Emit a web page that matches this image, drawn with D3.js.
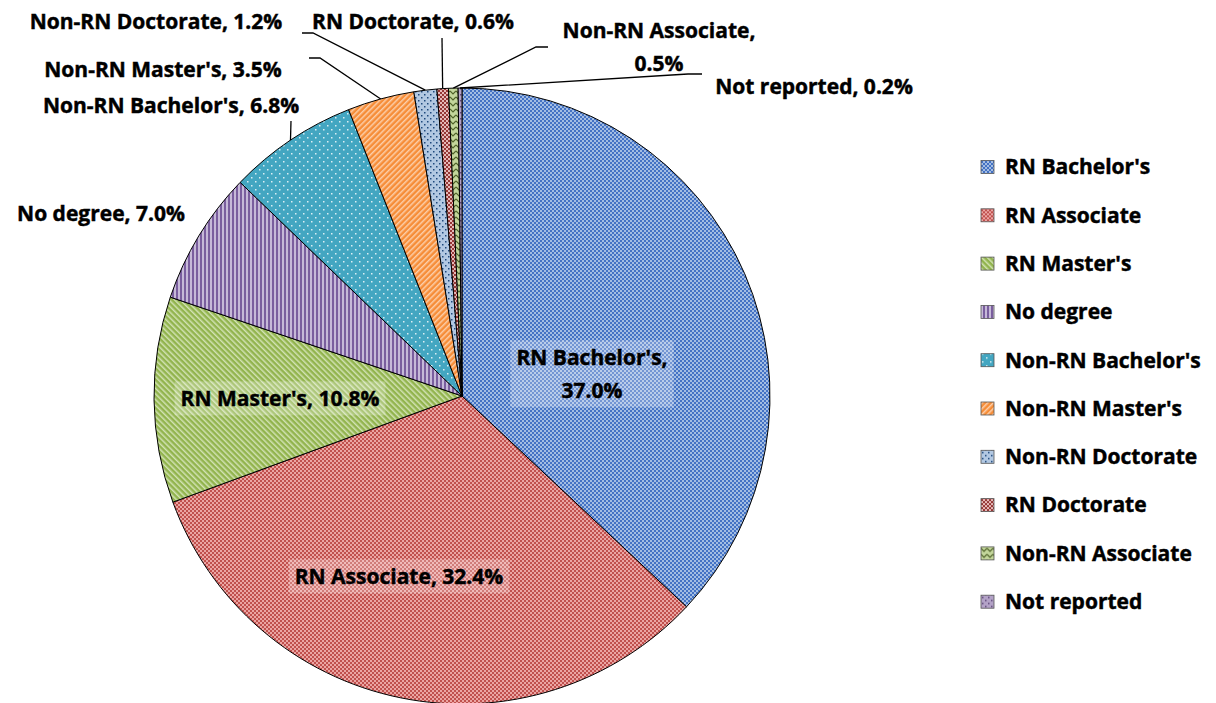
<!DOCTYPE html>
<html>
<head>
<meta charset="utf-8">
<script src="https://cdn.jsdelivr.net/npm/d3@7"></script>
<style>
body { margin: 0; background: #fff; }
text { font-family: "Open Sans", Lato, sans-serif; font-weight: bold; fill: #000; stroke: #000; stroke-width: 0.45px; }
</style>
</head>
<body>
<script>
// slice names and shares (%) in drawing order, clockwise from 12 o'clock
var categories = ["RN Bachelor's", "RN Associate", "RN Master's", "No degree", "Non-RN Bachelor's",
                  "Non-RN Master's", "Non-RN Doctorate", "RN Doctorate", "Non-RN Associate", "Not reported"];
var values = [37.0, 32.4, 10.8, 7.0, 6.8, 3.5, 1.2, 0.6, 0.5, 0.2];

// where each data label sits, and the elbow points of its leader line (if any)
var labelLayout = [
  {x: 592, y: 358, split: true, box: true},
  {x: 399, y: 577, box: true},
  {x: 280, y: 399, box: true},
  {x: 101, y: 214},
  {x: 171, y: 106, lead: [[291, 121]]},
  {x: 163, y: 70, lead: [[309, 58], [320, 58]]},
  {x: 156, y: 22, lead: [[302, 33], [313, 33]]},
  {x: 413, y: 22, lead: [[442, 38]]},
  {x: 659, y: 31, split: true, lead: [[548, 47], [536, 47]]},
  {x: 814, y: 87, lead: [[702, 74], [688, 74]]}
];

var width = 1216, height = 703;
var cx = 462, cy = 396, radius = 308;
var fontSize = 21;

var svg = d3.select("body").append("svg")
  .attr("width", width)
  .attr("height", height);

var defs = svg.append("defs");

//helper to build a pattern fill with a background colour
function makePattern(id, w, h, bg, rot) {
  var p = defs.append("pattern")
    .attr("id", id)
    .attr("patternUnits", "userSpaceOnUse")
    .attr("width", w)
    .attr("height", h);
  if (rot) p.attr("patternTransform", "rotate(" + rot + ")");
  p.append("rect").attr("width", w).attr("height", h).attr("fill", bg);
  return p;
}

function checker(id, bg, fg) {
  var p = makePattern(id, 4, 4, bg);
  p.append("rect").attr("x", 0).attr("y", 0).attr("width", 2).attr("height", 2).attr("fill", fg);
  p.append("rect").attr("x", 2).attr("y", 2).attr("width", 2).attr("height", 2).attr("fill", fg);
}

function stripes(id, bg, fg, rot, sw) {
  var p = makePattern(id, 4, 4, bg, rot);
  p.append("rect").attr("width", sw).attr("height", 4).attr("fill", fg);
}

function dots(id, bg, fg, size, step) {
  var p = makePattern(id, step, step, bg);
  p.append("rect").attr("x", 1).attr("y", 1).attr("width", size).attr("height", size).attr("fill", fg);
  p.append("rect").attr("x", 1 + step / 2).attr("y", 1 + step / 2).attr("width", size).attr("height", size).attr("fill", fg);
}

checker("p0", "#4472C4", "#A3BDE3");
checker("p1", "#C0504D", "#EBA5A3");
stripes("p2", "#92B44E", "#D2E2B4", -45, 1.5);
stripes("p3", "#7A5E9E", "#C6B9D8", 0, 2);
dots("p4", "#43A6C1", "#DAEEF3", 1.5, 8);
stripes("p5", "#F68D38", "#FCCFAA", 45, 1.5);
dots("p6", "#B2C8E2", "#1F497D", 1.5, 6);
checker("p7", "#953735", "#E6B9B8");
var wave = makePattern("p8", 6, 6, "#C3D69B");
wave.append("path").attr("d", "M0,1 L3,4 L6,1").attr("fill", "none")
  .attr("stroke", "#4F6228").attr("stroke-width", 1.2);
dots("p9", "#B3A2C7", "#5F497A", 1.5, 6);

var pie = d3.pie().sort(null).value(function(d) { return d; });
var arcs = pie(values);

var arc = d3.arc().innerRadius(0).outerRadius(radius);
var rimArc = d3.arc().innerRadius(radius).outerRadius(radius);

var g = svg.append("g").attr("transform", "translate(" + cx + "," + cy + ")");

g.selectAll("path.slice")
  .data(arcs)
  .enter().append("path")
  .attr("class", "slice")
  .attr("d", arc)
  .attr("fill", function(d, i) { return "url(#p" + i + ")"; })
  .attr("stroke", "#000")
  .attr("stroke-width", 1);

//leader lines from outside labels to the rim of their slice
arcs.forEach(function(d, i) {
  var lay = labelLayout[i];
  if (!lay.lead) return;
  var rim = rimArc.centroid(d);
  var pts = lay.lead.map(function(p) { return p; });
  pts.push([rim[0] + cx, rim[1] + cy]);
  svg.append("path")
    .attr("d", d3.line()(pts))
    .attr("fill", "none")
    .attr("stroke", "#000")
    .attr("stroke-width", 1.3);
});

//data labels
arcs.forEach(function(d, i) {
  var lay = labelLayout[i];
  var pct = d3.format(".1f")(values[i]) + "%";
  var lines = lay.split ? [categories[i] + ",", pct] : [categories[i] + ", " + pct];
  var lh = lay.split ? 33 : 0;
  var lg = svg.append("g");
  var t = lg.append("text")
    .attr("text-anchor", "middle")
    .attr("font-size", fontSize);
  lines.forEach(function(s, k) {
    t.append("tspan")
      .attr("x", lay.x)
      .attr("y", lay.y + k * lh)
      .attr("dy", "0.35em")
      .text(s);
  });
  if (lay.box) {
    var bb = t.node().getBBox();
    lg.insert("rect", "text")
      .attr("x", bb.x - 6)
      .attr("y", bb.y - 3)
      .attr("width", bb.width + 12)
      .attr("height", bb.height + 6)
      .attr("fill", "#fff")
      .attr("opacity", 0.25);
  }
});

//legend
var legend = svg.append("g")
  .selectAll("g")
  .data(categories)
  .enter().append("g")
  .attr("transform", function(d, i) { return "translate(981," + (167 + i * 48.3) + ")"; });

legend.append("rect")
  .attr("x", 0)
  .attr("y", -6.5)
  .attr("width", 13)
  .attr("height", 13)
  .attr("fill", function(d, i) { return "url(#p" + i + ")"; })
  .attr("stroke", "#555")
  .attr("stroke-width", 0.8);

legend.append("text")
  .attr("x", 24)
  .attr("y", 0)
  .attr("dy", "0.35em")
  .attr("font-size", fontSize)
  .text(function(d) { return d; });
</script>
</body>
</html>
